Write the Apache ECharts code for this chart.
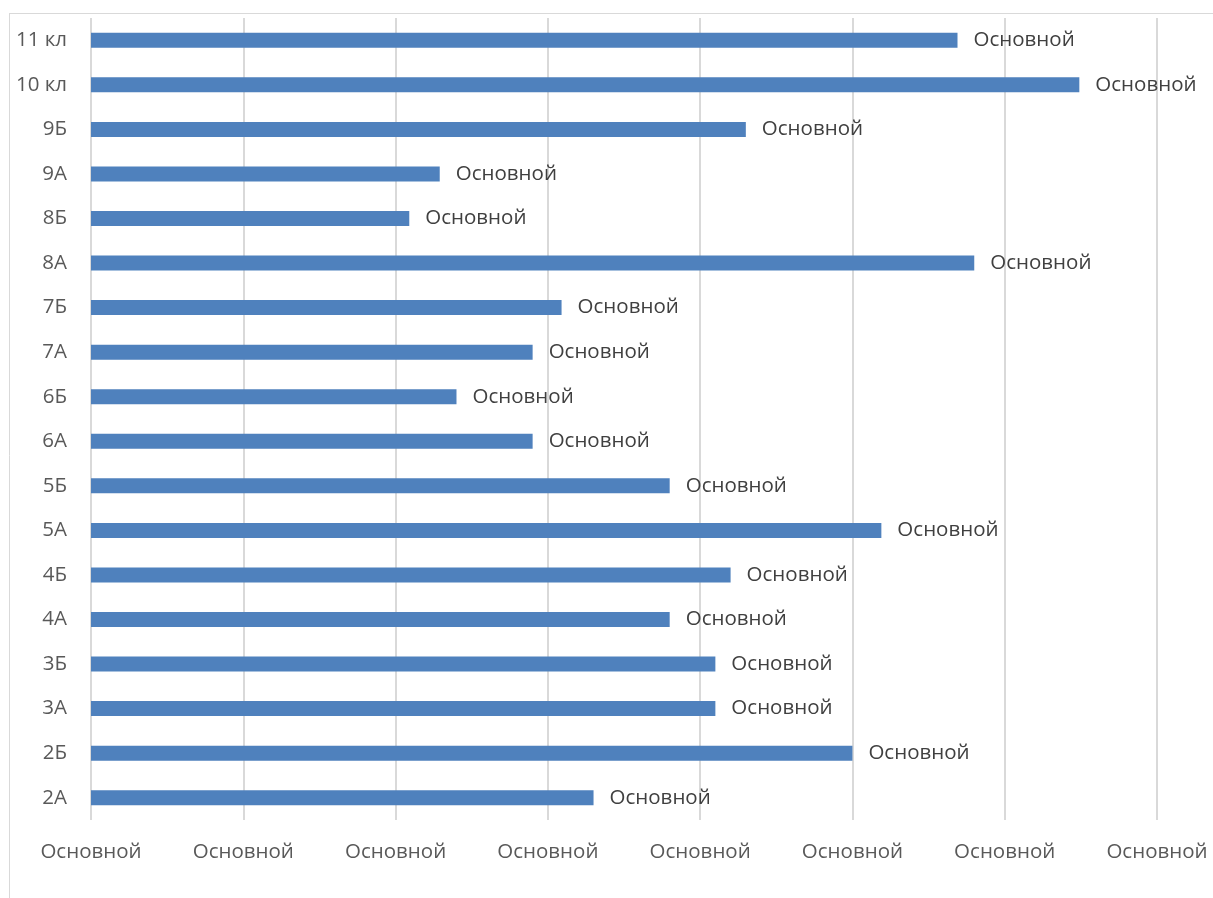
<!DOCTYPE html>
<html><head><meta charset="utf-8">
<script src="https://cdn.jsdelivr.net/npm/echarts@6/dist/echarts.min.js"></script>
<style>html,body{margin:0;padding:0;background:#fff}#c{width:1213px;height:898px}</style>
</head><body><div id="c"></div>
<script>
const categories = ['2А','2Б','3А','3Б','4А','4Б','5А','5Б','6А','6Б','7А','7Б','8А','8Б','9А','9Б','10 кл','11 кл'];
const values = [3.3, 5.0, 4.1, 4.1, 3.8, 4.2, 5.19, 3.8, 2.9, 2.4, 2.9, 3.09, 5.8, 2.09, 2.29, 4.3, 6.49, 5.69];
const tickLabel = 'Основной';
const dataLabel = 'Основной';

const chart = echarts.init(document.getElementById('c'));
const font = '"Open Sans", sans-serif';
chart.setOption({
  animation: false,
  grid: {left: 91, right: 56, top: 18, bottom: 78, containLabel: false},
  graphic: [
    {type: 'line', shape: {x1: 9, y1: 13.5, x2: 1213, y2: 13.5}, style: {stroke: '#d9d9d9', lineWidth: 1}},
    {type: 'line', shape: {x1: 9.5, y1: 13, x2: 9.5, y2: 898}, style: {stroke: '#d9d9d9', lineWidth: 1}}
  ],
  xAxis: {
    type: 'value', min: 0, max: 7, interval: 1,
    axisLine: {show: false},
    axisTick: {show: false},
    splitLine: {show: true, lineStyle: {color: '#d9d9d9', width: 2}},
    axisLabel: {formatter: () => tickLabel, color: '#595959', fontSize: 20.5, fontFamily: font, margin: 22}
  },
  yAxis: {
    type: 'category', data: categories,
    axisLine: {show: false},
    axisTick: {show: false},
    axisLabel: {color: '#595959', fontSize: 20.5, fontFamily: font, margin: 24}
  },
  series: [{
    type: 'bar', data: values, barWidth: 15,
    itemStyle: {color: '#4f81bd'},
    label: {show: true, position: 'right', distance: 16, formatter: () => dataLabel,
      color: '#404040', fontSize: 20.5, fontFamily: font, padding: [3, 0, 0, 0]}
  }]
});
</script></body></html>
